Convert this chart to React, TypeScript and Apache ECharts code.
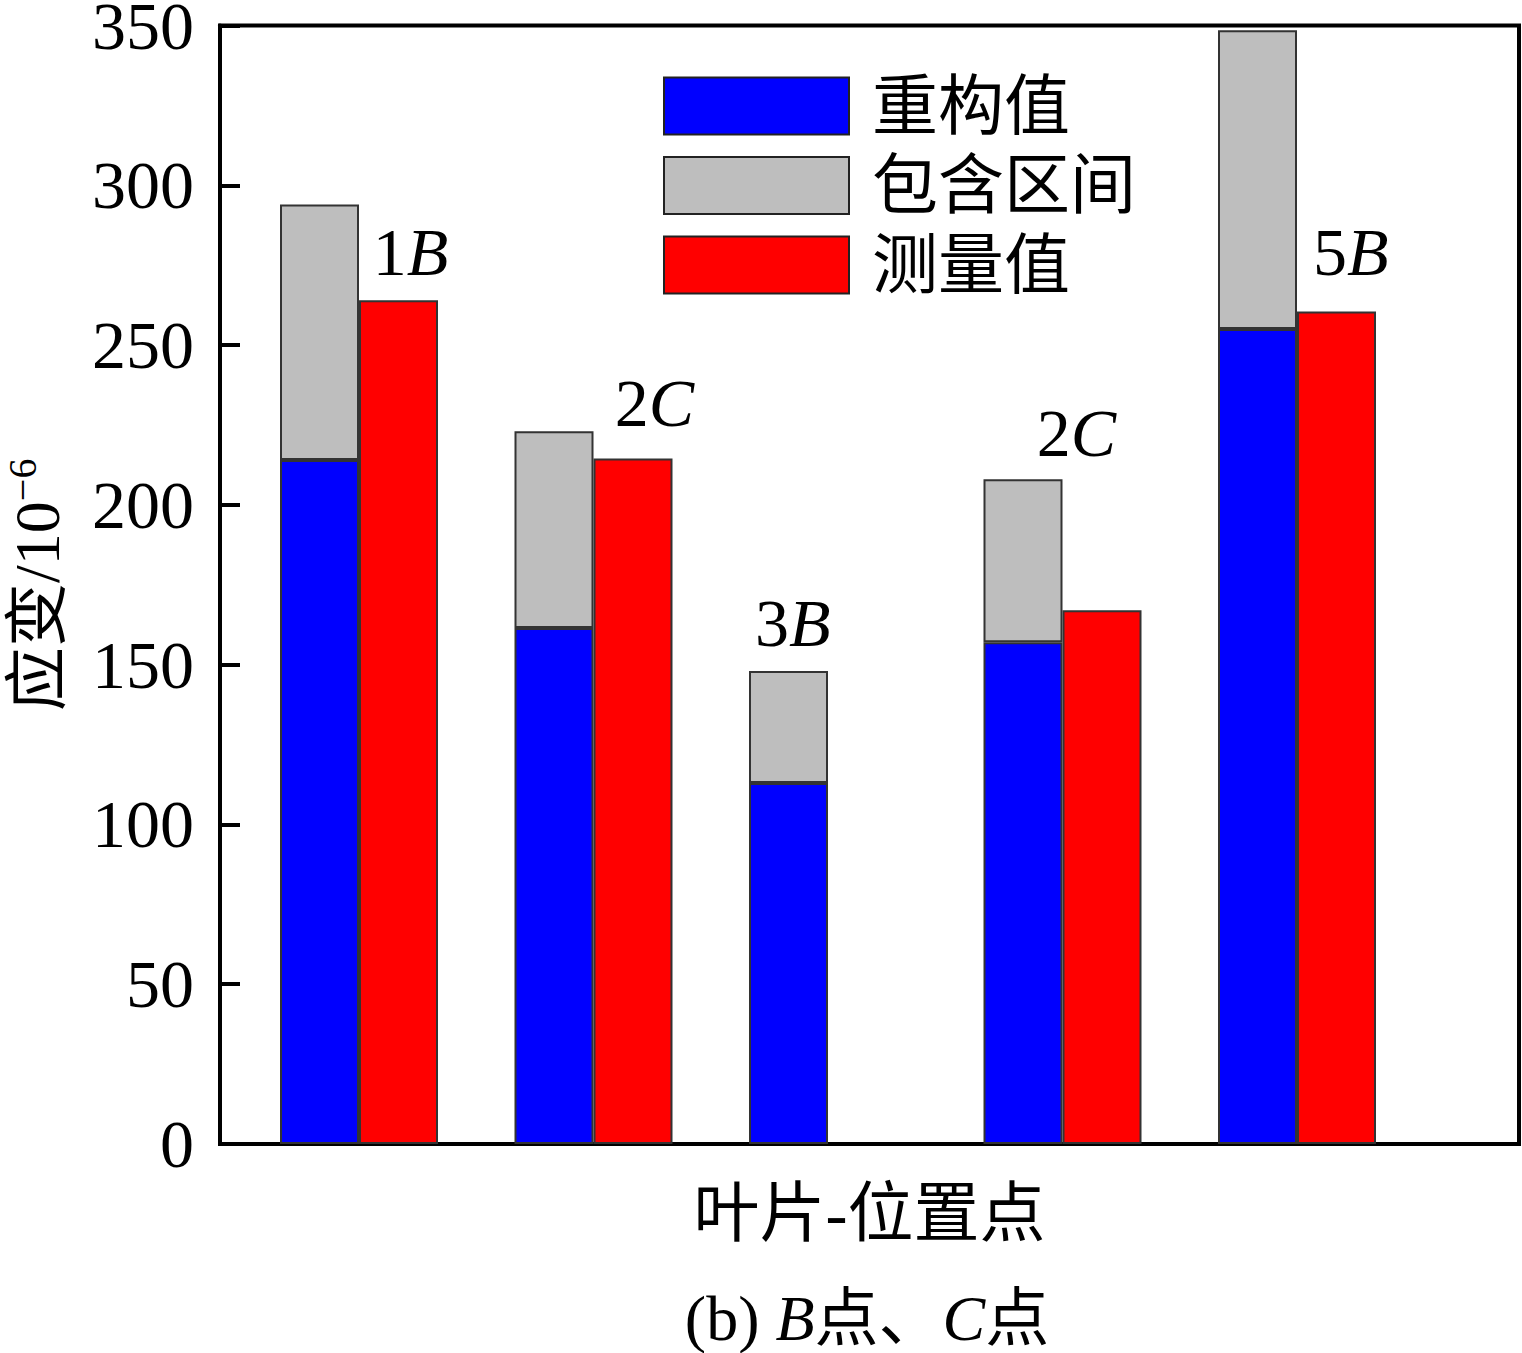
import React, { useEffect, useRef } from "react";
import * as echarts from "echarts";

// the five groups (blade - measuring point)
const categories = ["1B", "2C", "3B", "2C ", "5B"];
// 重构值 (reconstructed values)
const reconstructed = [214, 161.5, 113, 157, 255];
// upper bound of 包含区间 (interval top)
const intervalUpper = [294, 223, 148, 208, 348.5];
// 测量值 (measured values), none for the third group
const measured: (number | null)[] = [264, 214.5, null, 167, 260.5];
// annotation labels and their anchors (data space of the frame axis; group n sits at x = n)
const pointLabels = ["1B", "2C", "3B", "2C", "5B"];
const labelX = [1.22, 2.26, 2.85, 4.06, 5.23];
const labelY = [279, 232, 163, 222.5, 279];
const yTicks = { min: 0, max: 350, interval: 50 };

const FONT = '"Liberation Serif", "Times New Roman", "Noto Sans CJK SC", serif';

export default function App() {
  const ref = useRef<HTMLDivElement>(null);
  useEffect(() => {
    if (!ref.current) return;
    const chart = echarts.init(ref.current, null, { renderer: "svg" });
    const border = { borderColor: "#333", borderWidth: 2 };
    chart.setOption({
      animation: false,
      backgroundColor: "#fff",
      grid: [
        {
          left: 220,
          right: 3,
          top: 25.5,
          bottom: 209,
          show: true,
          borderColor: "#000",
          borderWidth: 4,
          backgroundColor: "transparent",
          outerBoundsMode: "none",
          containLabel: false,
        },
        {
          left: 241.75,
          right: 107.75,
          top: 25.5,
          bottom: 209,
          show: false,
          outerBoundsMode: "none",
          containLabel: false,
        },
      ],
      legend: {
        data: ["重构值", "包含区间", "测量值"],
        orient: "vertical",
        left: 663,
        top: 73,
        padding: 0,
        itemWidth: 185,
        itemHeight: 57,
        itemGap: 13.5,
        icon: "rect",
        itemStyle: { borderColor: "#222", borderWidth: 2 },
        textStyle: {
          fontSize: 66,
          fontFamily: FONT,
          color: "#000",
          padding: [0, 0, 0, 18],
        },
      },
      xAxis: [
        {
          type: "value",
          gridIndex: 0,
          min: 0.4072,
          max: 5.947,
          name: "叶片-位置点",
          nameLocation: "middle",
          nameGap: 36,
          nameTextStyle: { fontSize: 66, fontFamily: FONT, color: "#000" },
          axisLine: { show: true, lineStyle: { color: "#000", width: 4 } },
          axisTick: { show: false },
          axisLabel: { show: false },
          splitLine: { show: false },
        },
        {
          type: "category",
          gridIndex: 1,
          data: categories,
          show: false,
        },
      ],
      yAxis: [
        {
          type: "value",
          gridIndex: 0,
          min: yTicks.min,
          max: yTicks.max,
          interval: yTicks.interval,
          name: "应变/10{sup|−6}",
          nameLocation: "middle",
          nameRotate: 90,
          nameGap: 148,
          nameTextStyle: {
            fontSize: 64,
            fontFamily: FONT,
            color: "#000",
            lineHeight: 70,
            rich: {
              sup: { fontSize: 40, fontFamily: FONT, color: "#000", verticalAlign: "top" },
            },
          },
          axisLine: { show: true, lineStyle: { color: "#000", width: 4 } },
          axisTick: { show: true, inside: true, length: 20, lineStyle: { color: "#000", width: 4 } },
          axisLabel: { fontSize: 68, lineHeight: 50, fontFamily: FONT, color: "#000", margin: 26 },
          splitLine: { show: false },
        },
        {
          type: "value",
          gridIndex: 1,
          min: yTicks.min,
          max: yTicks.max,
          interval: yTicks.interval,
          show: false,
          splitLine: { show: false },
        },
      ],
      series: [
        {
          name: "重构值",
          type: "bar",
          xAxisIndex: 1,
          yAxisIndex: 1,
          stack: "rec",
          barWidth: 79,
          barGap: "0%",
          itemStyle: { color: "#0000FF", ...border },
          data: reconstructed,
        },
        {
          name: "包含区间",
          type: "bar",
          xAxisIndex: 1,
          yAxisIndex: 1,
          stack: "rec",
          barWidth: 79,
          barGap: "0%",
          itemStyle: { color: "#BEBEBE", ...border },
          data: intervalUpper.map((u, i) => u - reconstructed[i]),
        },
        {
          name: "测量值",
          type: "bar",
          xAxisIndex: 1,
          yAxisIndex: 1,
          barWidth: 79,
          barGap: "0%",
          itemStyle: { color: "#FF0000", ...border },
          data: measured.map((v) => (v === null ? "-" : v)),
        },
        {
          name: "labels",
          type: "scatter",
          xAxisIndex: 0,
          yAxisIndex: 0,
          symbolSize: 0,
          silent: true,
          itemStyle: { opacity: 1 },
          data: labelX.map((x, i) => ({ value: [x, labelY[i]], name: pointLabels[i] })),
          label: {
            show: true,
            position: [0, 0],
            align: "center",
            verticalAlign: "middle",
            color: "#000",
            opacity: 1,
            formatter: (p: any) => `{n|${p.name.slice(0, 1)}}{i|${p.name.slice(1)}}`,
            rich: {
              n: { fontSize: 68, fontFamily: FONT, color: "#000" },
              i: { fontSize: 68, fontFamily: FONT, color: "#000", fontStyle: "italic" },
            },
          },
        },
      ],
      graphic: [
        {
          type: "text",
          x: 867,
          y: 1318,
          style: {
            text: "(b) {i|B}点、{i|C}点",
            align: "center",
            verticalAlign: "middle",
            fontSize: 64,
            fontFamily: FONT,
            fill: "#000",
            rich: {
              i: { fontSize: 64, fontFamily: FONT, fontStyle: "italic", fill: "#000" },
            },
          },
        },
      ],
    });
    return () => chart.dispose();
  }, []);
  return (
    <div
      ref={ref}
      style={{ position: "fixed", left: 0, top: 0, width: 1522, height: 1353, background: "#fff" }}
    />
  );
}
